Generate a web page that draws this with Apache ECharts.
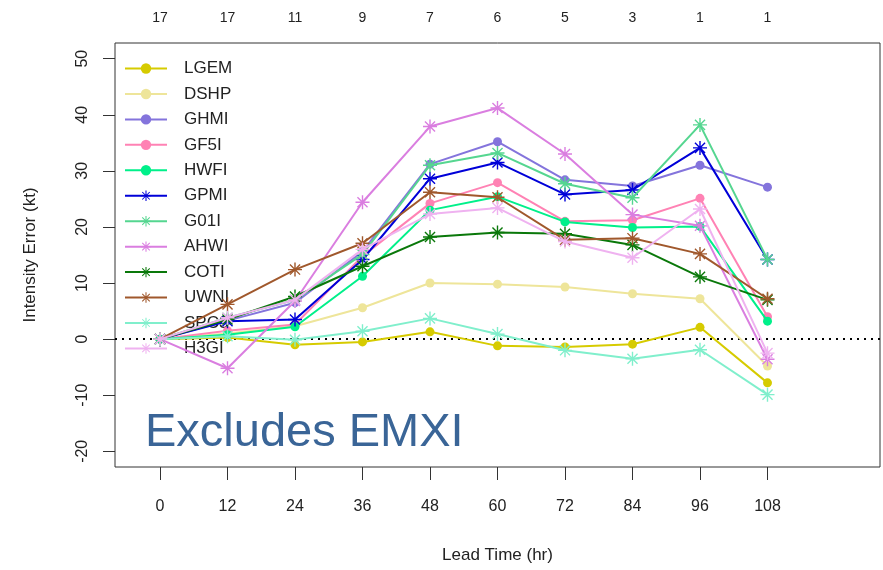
<!DOCTYPE html>
<html>
<head>
<meta charset="utf-8">
<script src="https://cdn.jsdelivr.net/npm/echarts@6/dist/echarts.min.js"></script>
<style>
  html, body { margin: 0; padding: 0; background: #fff; }
  #chart { width: 883px; height: 570px; }
</style>
</head>
<body>
<div id="chart"></div>
<script>
// lead times and number of cases at each
const hours = [0, 12, 24, 36, 48, 60, 72, 84, 96, 108];
const counts = [17, 17, 11, 9, 7, 6, 5, 3, 1, 1];
const yTicks = [-20, -10, 0, 10, 20, 30, 40, 50];

// intensity error (kt) per model
const LGEM = [0, 0.3, -1.0, -0.5, 1.3, -1.2, -1.4, -0.9, 2.1, -7.8];
const DSHP = [0, 1.0, 2.3, 5.6, 10.0, 9.8, 9.3, 8.1, 7.2, -4.8];
const GHMI = [0, 3.3, 6.5, 15.6, 31.2, 35.2, 28.4, 27.3, 31.0, 27.1];
const GF5I = [0, 1.5, 2.6, 14.8, 24.2, 27.9, 21.0, 21.2, 25.1, 4.0];
const HWFI = [0, 0.8, 2.2, 11.2, 23.0, 25.4, 20.9, 19.9, 20.1, 3.2];
const GPMI = [0, 3.2, 3.5, 14.2, 28.6, 31.5, 25.8, 26.6, 34.1, 14.2];
const G01I = [0, 3.8, 7.0, 15.1, 31.0, 33.2, 27.7, 25.2, 38.2, 14.2];
const AHWI = [0, -5.2, 6.8, 24.4, 37.9, 41.2, 33.0, 22.2, 20.2, -3.6];
const COTI = [0, 3.5, 7.6, 13.0, 18.2, 19.0, 18.8, 16.8, 11.1, 7.0];
const UWNI = [0, 6.2, 12.4, 17.1, 26.2, 25.3, 17.7, 18.0, 15.2, 7.2];
const SPC3 = [0, 0.5, -0.1, 1.4, 3.7, 0.9, -2.0, -3.5, -1.9, -9.9];
const H3GI = [0, 3.8, 7.0, 16.0, 22.3, 23.4, 17.4, 14.5, 23.2, -2.5];

// R pch 8 style asterisk
const star = 'path://M9 0h2v20h-2z M0 9h20v2h-20z M2.1 3.5L3.5 2.1L17.9 16.5L16.5 17.9z M16.5 2.1L17.9 3.5L3.5 17.9L2.1 16.5z';

const models = [
  { name: 'LGEM', data: LGEM, color: '#d6cb00', dot: true },
  { name: 'DSHP', data: DSHP, color: '#eee59a', dot: true },
  { name: 'GHMI', data: GHMI, color: '#8474dc', dot: true },
  { name: 'GF5I', data: GF5I, color: '#ff82b4', dot: true },
  { name: 'HWFI', data: HWFI, color: '#00f08a', dot: true },
  { name: 'GPMI', data: GPMI, color: '#0000d8', dot: false },
  { name: 'G01I', data: G01I, color: '#55d690', dot: false },
  { name: 'AHWI', data: AHWI, color: '#da7ee0', dot: false },
  { name: 'COTI', data: COTI, color: '#0a780a', dot: false },
  { name: 'UWNI', data: UWNI, color: '#a0582c', dot: false },
  { name: 'SPC3', data: SPC3, color: '#80efcc', dot: false },
  { name: 'H3GI', data: H3GI, color: '#efb2f0', dot: false }
];

const font = 'Liberation Sans';

let chart = echarts.init(document.getElementById('chart'));

let series = models.map(function (m, i) {
  let s = {
    name: m.name,
    type: 'line',
    data: hours.map(function (h, j) { return [h, m.data[j]]; }),
    symbol: m.dot ? 'circle' : star,
    symbolSize: m.dot ? 9 : 14,
    showSymbol: true,
    lineStyle: { color: m.color, width: 2 },
    itemStyle: { color: m.color, borderWidth: 0 },
    emphasis: { disabled: true },
    z: 2 + i
  };
  if (i === 0) {
    s.markLine = {
      silent: true,
      symbol: 'none',
      label: { show: false },
      lineStyle: { color: '#000', type: [2, 5], width: 2 },
      data: [{ yAxis: 0 }],
      z: 1
    };
  }
  return s;
});

let option = {
  animation: false,
  backgroundColor: '#fff',
  textStyle: { fontFamily: font },
  grid: {
    left: 115, right: 3, top: 43, bottom: 103,
    show: true, borderColor: '#333', borderWidth: 1, backgroundColor: 'transparent'
  },
  legend: {
    orient: 'vertical',
    left: 119, top: 55,
    itemWidth: 42, itemHeight: 13, itemGap: 8.45,
    textStyle: { fontFamily: font, fontSize: 17, color: '#222', padding: [0, 0, 0, 12], lineHeight: 14 },
    data: models.map(function (m) { return m.name; })
  },
  xAxis: [{
    type: 'value', min: -8, max: 128,
    position: 'bottom',
    name: 'Lead Time (hr)', nameLocation: 'middle', nameGap: 80,
    nameTextStyle: { fontFamily: font, fontSize: 17, color: '#222' },
    axisLine: { show: false, onZero: false },
    axisTick: { show: true, inside: false, length: 13, customValues: hours, lineStyle: { color: '#333' } },
    axisLabel: { customValues: hours, margin: 32, fontSize: 16, color: '#222', fontFamily: font },
    splitLine: { show: false }
  }, {
    type: 'value', min: -8, max: 128,
    position: 'top',
    axisLine: { show: false, onZero: false },
    axisTick: { show: false },
    axisLabel: {
      customValues: hours, margin: 18, fontSize: 14, color: '#222', fontFamily: font,
      formatter: function (v) { return String(counts[hours.indexOf(v)]); }
    },
    splitLine: { show: false }
  }],
  yAxis: {
    type: 'value', min: -22.8, max: 52.8,
    name: 'Intensity Error (kt)', nameLocation: 'middle', nameGap: 76, nameRotate: 90,
    nameTextStyle: { fontFamily: font, fontSize: 17, color: '#222' },
    axisLine: { show: false, onZero: false },
    axisTick: { show: true, inside: false, length: 12, customValues: yTicks, lineStyle: { color: '#333' } },
    axisLabel: { customValues: yTicks, rotate: 90, margin: 24, fontSize: 16, color: '#222', fontFamily: font },
    splitLine: { show: false }
  },
  graphic: [{
    type: 'text',
    left: 145, top: 410,
    style: { text: 'Excludes EMXI', fontFamily: font, fontSize: 47, fill: '#3a6597' },
    z: 100
  }],
  series: series
};

chart.setOption(option);
</script>
</body>
</html>
